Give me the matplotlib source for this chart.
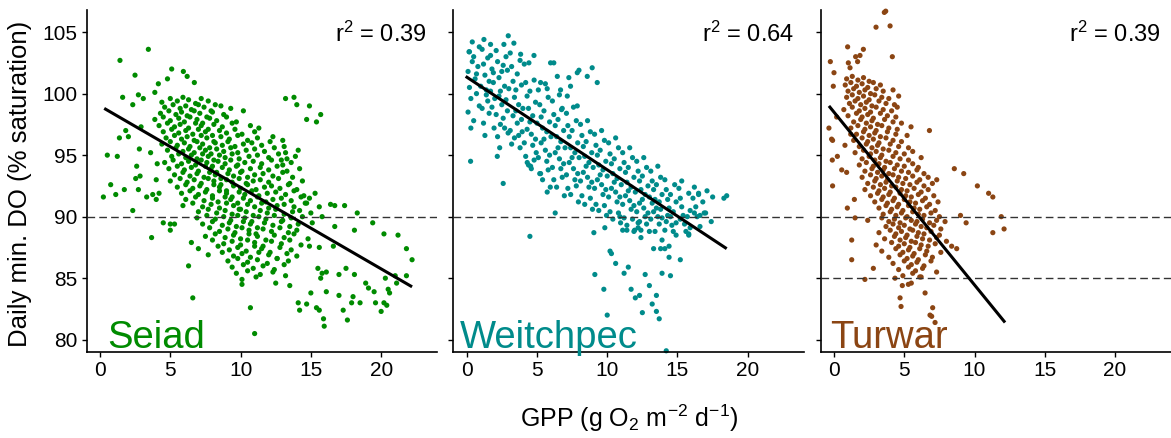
import matplotlib
matplotlib.use("Agg")
import matplotlib.pyplot as plt

plt.rcParams["font.family"] = ["Liberation Sans", "DejaVu Sans"]
plt.rcParams["mathtext.fontset"] = "custom"
plt.rcParams["mathtext.rm"] = "Liberation Sans"
plt.rcParams["mathtext.it"] = "Liberation Sans:italic"

sites = ["Seiad", "Weitchpec", "Turwar"]
site_colors = ["#008B00", "#008B8B", "#8B4513"]
r2_labels = ["0.39", "0.64", "0.39"]
fit_gpp = [[0.3, 22.2], [-0.07, 18.5], [-0.36, 12.17]]
fit_do = [[98.8, 84.3], [101.4, 87.4], [99.0, 81.4]]
ref_levels = [[90], [90], [90, 85]]
x_ticks = [0, 5, 10, 15, 20]
y_ticks = [80, 85, 90, 95, 100, 105]

# (GPP, min DO)
seiad_pts = [
    (3.44, 103.6), (1.42, 102.7), (2.49, 101.5), (5.1, 102.0), (4.8, 101.2), (5.93, 101.8), (6.2, 101.4),
    (6.71, 100.9), (4.15, 100.8), (1.61, 99.7), (2.73, 99.9), (3.08, 99.6), (3.9, 100.1), (2.33, 99.1),
    (13.2, 99.6), (13.8, 99.7), (14.9, 99.0), (14.0, 99.1), (14.7, 97.9), (15.7, 98.3), (15.4, 97.7),
    (0.52, 95.0), (0.24, 91.6), (0.76, 92.6), (1.12, 91.8), (1.23, 94.9), (1.73, 92.2), (1.38, 96.4),
    (1.83, 97.0), (2.02, 96.5), (2.33, 90.5), (2.54, 93.1), (2.61, 94.1), (2.73, 92.2), (2.85, 93.3),
    (2.8, 95.5), (2.92, 97.3), (3.32, 91.6), (3.6, 95.2), (3.67, 88.3), (3.75, 91.8), (4.0, 91.4),
    (4.2, 91.9), (4.0, 93.0), (4.07, 94.3), (4.5, 89.5), (5.0, 89.4), (5.3, 89.4),
    (6.6, 83.4), (10.7, 82.6), (11.0, 80.5), (10.1, 84.5), (6.3, 86.0),
    (14.1, 83.0), (14.2, 82.4), (14.7, 82.9), (15.0, 83.8), (15.4, 82.6), (15.6, 82.4), (15.9, 81.7),
    (15.95, 81.1), (15.5, 85.8), (15.7, 85.0), (15.8, 85.4), (16.1, 85.5), (16.1, 83.9), (17.0, 83.6),
    (17.3, 82.4), (17.6, 81.6), (17.9, 83.0), (18.0, 83.5), (17.5, 85.8), (17.0, 85.3), (18.1, 85.3),
    (18.5, 83.0), (18.9, 84.6), (19.1, 84.2), (19.5, 83.9), (19.6, 83.0), (20.0, 82.3), (20.2, 83.0),
    (20.4, 82.8), (20.3, 85.0), (20.5, 84.1), (20.6, 83.8), (21.0, 85.2), (21.1, 84.6), (21.8, 85.2),
    (21.8, 87.4), (22.2, 86.5), (21.2, 88.5), (20.2, 88.6), (19.4, 89.5), (18.3, 90.3), (17.4, 90.9),
    (16.7, 90.9), (16.4, 91.0), (15.6, 90.8), (15.8, 90.0), (16.7, 89.2), (18.1, 88.9), (16.6, 87.6),
    (15.6, 87.5), (14.9, 91.5), (14.7, 91.1),
    (4.4, 99.3), (5.0, 99.6), (5.5, 99.4), (5.9, 99.7), (6.3, 99.5), (6.8, 99.2), (7.2, 99.6), (7.7, 99.4),
    (8.2, 99.1), (4.6, 98.9), (5.2, 99.1), (5.7, 98.8), (6.1, 99.0), (6.5, 98.7), (7.0, 99.1), (7.4, 98.9),
    (7.9, 98.6), (8.6, 99.0), (9.3, 98.8), (4.3, 98.4), (4.9, 98.6), (5.4, 98.3), (5.8, 98.5), (6.2, 98.2),
    (6.7, 98.6), (7.1, 98.4), (7.6, 98.1), (8.0, 98.5), (8.8, 98.3), (10.2, 98.6), (3.9, 97.9), (4.5, 98.1),
    (5.0, 97.8), (5.6, 98.0), (6.0, 97.7), (6.4, 98.1), (6.9, 97.9), (7.3, 97.6), (7.8, 98.0), (8.3, 97.8),
    (9.0, 98.1), (9.7, 97.7), (4.2, 97.4), (4.8, 97.6), (5.3, 97.3), (5.7, 97.5), (6.3, 97.2), (6.8, 97.6),
    (7.2, 97.4), (7.7, 97.1), (8.1, 97.5), (8.7, 97.3), (9.4, 97.6), (10.7, 97.4), (11.3, 97.2),
    (4.5, 96.9), (5.1, 97.1), (5.6, 96.8), (6.1, 97.0), (6.6, 96.7), (7.0, 97.1), (7.5, 96.9), (8.0, 96.6),
    (8.5, 97.0), (9.0, 96.8), (9.6, 97.1), (10.1, 96.7), (11.0, 96.9), (4.7, 96.4), (5.3, 96.6), (5.8, 96.3),
    (6.2, 96.5), (6.7, 96.2), (7.2, 96.6), (7.6, 96.4), (8.1, 96.1), (8.6, 96.5), (9.2, 96.3), (9.8, 96.6),
    (10.5, 96.2), (11.2, 96.4), (12.3, 96.5), (13.0, 96.2), (4.4, 95.9), (5.0, 96.1), (5.5, 95.8),
    (6.0, 96.0), (6.4, 95.7), (6.9, 96.1), (7.3, 95.9), (7.8, 95.6), (8.2, 96.0), (8.7, 95.8), (9.1, 96.1),
    (9.6, 95.7), (10.2, 95.9), (10.8, 96.0), (11.5, 95.8), (12.1, 96.1), (13.1, 95.7), (4.8, 95.4),
    (5.4, 95.6), (5.9, 95.3), (6.3, 95.5), (6.7, 95.2), (7.1, 95.6), (7.5, 95.4), (7.9, 95.1), (8.3, 95.5),
    (8.8, 95.3), (9.3, 95.6), (9.8, 95.2), (10.4, 95.4), (11.0, 95.5), (11.7, 95.3), (12.4, 95.6),
    (13.2, 95.2), (14.1, 95.4), (5.1, 94.9), (5.6, 95.1), (6.1, 94.8), (6.5, 95.0), (6.9, 94.7), (7.3, 95.1),
    (7.7, 94.9), (8.1, 94.6), (8.5, 95.0), (8.9, 94.8), (9.4, 95.1), (9.9, 94.7), (10.6, 94.9), (11.2, 95.0),
    (12.0, 94.8), (12.7, 95.1), (13.3, 94.7), (13.9, 94.9), (12.9, 94.6), (4.6, 94.4), (5.2, 94.6),
    (5.8, 94.3), (6.3, 94.5), (6.8, 94.2), (7.2, 94.6), (7.6, 94.4), (8.0, 94.1), (8.4, 94.5), (8.9, 94.3),
    (9.3, 94.6), (9.8, 94.2), (10.3, 94.4), (10.9, 94.5), (11.5, 94.3), (12.2, 94.6), (13.0, 94.2),
    (13.6, 94.4), (4.9, 93.9), (5.5, 94.1), (6.0, 93.8), (6.5, 94.0), (7.0, 93.7), (7.5, 94.1), (7.9, 93.9),
    (8.3, 93.6), (8.7, 94.0), (9.2, 93.8), (9.7, 94.1), (10.1, 93.7), (10.7, 93.9), (11.4, 94.0),
    (12.0, 93.8), (12.6, 94.1), (13.3, 93.7), (14.2, 93.9), (5.3, 93.4), (5.9, 93.6), (6.4, 93.3),
    (6.9, 93.5), (7.4, 93.2), (7.8, 93.6), (8.2, 93.4), (8.6, 93.1), (9.1, 93.5), (9.5, 93.3), (10.0, 93.6),
    (10.5, 93.2), (11.0, 93.4), (11.6, 93.5), (12.3, 93.3), (13.0, 93.6), (13.7, 93.2), (5.0, 92.9),
    (5.7, 93.1), (6.2, 92.8), (6.7, 93.0), (7.2, 92.7), (7.7, 93.1), (8.1, 92.9), (8.6, 92.6), (9.0, 93.0),
    (9.4, 92.8), (9.9, 93.1), (10.4, 92.7), (10.9, 92.9), (11.4, 93.0), (12.0, 92.8), (12.7, 93.1),
    (13.5, 92.7), (14.4, 92.9), (5.5, 92.4), (6.1, 92.6), (6.6, 92.3), (7.1, 92.5), (7.6, 92.2), (8.1, 92.6),
    (8.5, 92.4), (9.0, 92.1), (9.5, 92.5), (10.0, 92.3), (10.5, 92.6), (11.1, 92.2), (11.7, 92.4),
    (12.2, 92.5), (12.8, 92.3), (13.4, 92.6), (14.0, 92.2), (5.8, 91.9), (6.4, 92.1), (7.0, 91.8),
    (7.5, 92.0), (8.0, 91.7), (8.5, 92.1), (9.0, 91.9), (9.4, 91.6), (9.9, 92.0), (10.3, 91.8), (10.8, 92.1),
    (11.3, 91.7), (11.9, 91.9), (12.5, 92.0), (13.2, 91.8), (13.8, 92.1), (14.5, 91.7), (15.3, 91.9),
    (6.1, 91.4), (6.8, 91.6), (7.4, 91.3), (8.0, 91.5), (8.4, 91.2), (8.9, 91.6), (9.3, 91.4), (9.8, 91.1),
    (10.2, 91.5), (10.7, 91.3), (11.2, 91.6), (11.8, 91.2), (12.3, 91.4), (12.9, 91.5), (13.6, 91.3),
    (14.3, 91.6), (5.9, 90.9), (6.6, 91.1), (7.3, 90.8), (7.9, 91.0), (8.5, 90.7), (9.0, 91.1), (9.5, 90.9),
    (10.0, 90.6), (10.5, 91.0), (11.0, 90.8), (11.5, 91.1), (12.0, 90.7), (12.6, 90.9), (13.1, 91.0),
    (13.8, 90.8), (14.6, 91.1), (7.0, 90.4), (7.7, 90.6), (8.3, 90.3), (8.9, 90.5), (9.4, 90.2), (9.9, 90.6),
    (10.4, 90.4), (10.9, 90.1), (11.4, 90.5), (11.9, 90.3), (12.5, 90.6), (13.1, 90.2), (13.7, 90.4),
    (14.2, 90.5), (15.0, 90.3), (6.9, 89.9), (7.6, 90.1), (8.2, 89.8), (8.8, 90.0), (9.3, 89.7), (9.8, 90.1),
    (10.3, 89.9), (10.8, 89.6), (11.3, 90.0), (11.8, 89.8), (12.4, 90.1), (13.0, 89.7), (13.6, 89.9),
    (14.4, 90.0), (7.3, 89.4), (8.0, 89.6), (8.7, 89.3), (9.2, 89.5), (9.7, 89.2), (10.2, 89.6), (10.7, 89.4),
    (11.2, 89.1), (11.7, 89.5), (12.3, 89.3), (12.9, 89.6), (13.5, 89.2), (14.1, 89.4), (15.1, 89.5),
    (5.0, 88.9), (7.8, 89.1), (8.5, 88.8), (9.1, 89.0), (9.6, 88.7), (10.1, 89.1), (10.6, 88.9), (11.1, 88.6),
    (11.6, 89.0), (12.2, 88.8), (12.8, 89.1), (13.4, 88.7), (14.0, 88.9), (7.5, 88.4), (8.2, 88.6),
    (8.9, 88.3), (9.5, 88.5), (10.0, 88.2), (10.6, 88.6), (11.2, 88.4), (11.8, 88.1), (12.4, 88.5),
    (13.1, 88.3), (13.8, 88.6), (14.8, 88.2), (6.5, 87.9), (8.0, 88.1), (8.8, 87.8), (9.4, 88.0),
    (10.0, 87.7), (10.5, 88.1), (11.0, 87.9), (11.6, 87.6), (12.2, 88.0), (12.9, 87.8), (13.5, 88.1),
    (14.3, 87.7), (7.0, 87.4), (8.4, 87.6), (9.2, 87.3), (9.8, 87.5), (10.4, 87.2), (11.0, 87.6),
    (11.5, 87.4), (12.1, 87.1), (12.8, 87.5), (13.6, 87.3), (14.9, 87.6), (7.7, 86.9), (8.7, 87.1),
    (9.5, 86.8), (10.1, 87.0), (10.7, 86.7), (11.3, 87.1), (12.0, 86.9), (12.6, 86.6), (13.3, 87.0),
    (14.0, 86.8), (9.1, 86.4), (9.8, 86.6), (10.5, 86.3), (11.2, 86.5), (11.9, 86.2), (12.6, 86.6),
    (13.4, 86.4), (9.4, 85.9), (10.2, 86.1), (10.9, 85.8), (11.6, 86.0), (12.4, 85.7), (13.1, 86.1),
    (9.7, 85.4), (10.5, 85.6), (11.4, 85.3), (12.3, 85.5), (13.2, 85.2), (10.1, 84.9), (11.1, 85.1),
    (12.5, 84.6), (13.5, 84.4),
]

weitchpec_pts = [
    (2.96, 104.7), (1.23, 104.4), (0.4, 104.2), (2.65, 104.0), (3.36, 104.1), (1.7, 104.0), (0.17, 103.4),
    (3.84, 103.2), (4.43, 102.5), (4.79, 103.1), (5.26, 100.9), (5.97, 102.5), (6.2, 102.5),
    (7.87, 101.7), (7.99, 101.9), (8.58, 101.4), (8.93, 102.1), (9.29, 100.9), (7.27, 101.3), (7.39, 100.6),
    (6.68, 100.3), (7.16, 99.8), (6.45, 101.4), (5.73, 100.4), (7.87, 99.0), (6.75, 98.7),
    (4.31, 94.4), (4.55, 94.1), (5.26, 93.5), (5.73, 92.0), (6.3, 90.3), (4.5, 88.4), (2.6, 92.7),
    (0.28, 94.5), (2.18, 94.9),
    (9.12, 85.3), (9.76, 84.1), (10.0, 82.0), (10.2, 87.2), (10.3, 87.0), (10.6, 86.2), (11.2, 85.4),
    (11.5, 85.9), (11.7, 84.1), (12.0, 83.4), (12.3, 83.6), (12.5, 82.2), (12.7, 85.3), (13.0, 84.4),
    (13.2, 82.9), (13.5, 83.6), (13.5, 82.3), (13.7, 81.7), (13.9, 85.4), (14.5, 85.2), (13.9, 88.1),
    (13.3, 87.4), (13.8, 87.4), (14.1, 87.4), (14.4, 87.6), (14.4, 86.7), (15.2, 86.5), (14.2, 79.1),
    (12.2, 89.1), (12.4, 88.3), (11.4, 88.9), (11.1, 88.9), (11.9, 88.8), (9.05, 88.7), (9.83, 89.1),
    (14.9, 88.5), (15.8, 88.5), (10.9, 90.0), (12.3, 89.6), (13.0, 88.8),
    (18.3, 91.5), (18.5, 91.7), (17.5, 91.6), (17.1, 92.1), (16.5, 91.8), (17.4, 89.6), (17.0, 90.3),
    (16.6, 90.1), (16.2, 90.3), (15.8, 88.6),
    (0.1, 101.8), (0.2, 100.5), (0.3, 99.6), (0.1, 98.5), (0.4, 102.6), (0.5, 103.0), (0.2, 103.4),
    (0.6, 101.2), (0.7, 100.0), (0.8, 102.2), (0.9, 99.0), (0.5, 97.8), (0.3, 97.2), (0.9, 103.8),
    (0.7, 101.6), (1.0, 100.6),
    (1.1, 103.6), (1.2, 102.4), (1.3, 101.5), (1.4, 100.3), (1.5, 99.4), (1.6, 98.4), (1.2, 97.6),
    (1.7, 103.1), (1.8, 102.0), (1.9, 100.9), (1.4, 99.9), (1.6, 101.0), (1.8, 98.9), (1.95, 97.2),
    (1.3, 96.6), (1.5, 102.9), (1.7, 100.2), (1.1, 98.8), (2.0, 99.6), (1.9, 101.7),
    (2.1, 103.5), (2.2, 102.6), (2.3, 101.3), (2.4, 100.2), (2.5, 99.1), (2.6, 98.0), (2.7, 97.2),
    (2.2, 96.5), (2.8, 103.0), (2.9, 101.9), (2.3, 99.8), (2.5, 101.8), (2.7, 100.6), (2.9, 98.6),
    (2.1, 98.3), (2.4, 97.5), (2.6, 102.3), (2.8, 99.5), (3.0, 100.4), (2.95, 96.8), (2.35, 95.6),
    (3.1, 103.3), (3.2, 102.2), (3.3, 101.0), (3.4, 99.7), (3.5, 98.6), (3.6, 97.6), (3.7, 96.6),
    (3.2, 95.9), (3.8, 102.7), (3.9, 100.7), (3.3, 98.2), (3.5, 100.3), (3.7, 99.1), (3.9, 97.9),
    (3.1, 97.0), (3.4, 96.4), (3.6, 101.6), (3.8, 95.6), (4.0, 98.8), (3.95, 96.9),
    (4.1, 102.4), (4.2, 100.9), (4.3, 99.8), (4.4, 98.8), (4.5, 97.7), (4.6, 96.7), (4.7, 95.8),
    (4.2, 94.9), (4.8, 101.1), (4.9, 99.3), (4.3, 97.1), (4.5, 100.2), (4.7, 98.2), (4.9, 96.3),
    (4.1, 96.0), (4.4, 94.2), (4.6, 93.9), (4.8, 94.6), (5.0, 97.6), (4.95, 95.2),
    (5.1, 100.3), (5.2, 99.1), (5.3, 98.1), (5.4, 97.2), (5.5, 96.3), (5.6, 95.4), (5.7, 94.5),
    (5.2, 93.5), (5.8, 99.7), (5.9, 97.7), (5.3, 96.0), (5.5, 98.6), (5.7, 96.9), (5.9, 95.0),
    (5.1, 94.8), (5.4, 93.0), (5.6, 100.8), (5.8, 93.8), (6.0, 96.5), (5.95, 92.4),
    (6.1, 99.4), (6.2, 98.3), (6.3, 97.4), (6.4, 96.5), (6.5, 95.6), (6.6, 94.7), (6.7, 93.9),
    (6.2, 93.0), (6.8, 98.8), (6.9, 97.0), (6.3, 95.2), (6.5, 97.9), (6.7, 96.1), (6.9, 94.3),
    (6.1, 94.0), (6.4, 92.4), (6.6, 99.9), (6.8, 93.2), (7.0, 95.6), (6.95, 91.7),
    (7.1, 98.4), (7.2, 97.4), (7.3, 96.5), (7.4, 95.6), (7.5, 94.8), (7.6, 93.9), (7.7, 93.0),
    (7.2, 92.3), (7.8, 97.8), (7.9, 96.0), (7.3, 94.4), (7.5, 97.0), (7.7, 95.2), (7.9, 93.5),
    (7.1, 93.4), (7.4, 91.8), (7.6, 98.9), (7.8, 92.5), (8.0, 94.8), (7.95, 91.2),
    (8.1, 97.5), (8.2, 96.6), (8.3, 95.7), (8.4, 94.9), (8.5, 94.1), (8.6, 93.2), (8.7, 92.4),
    (8.2, 91.7), (8.8, 96.9), (8.9, 95.2), (8.3, 93.6), (8.5, 96.1), (8.7, 94.4), (8.9, 92.8),
    (8.1, 92.9), (8.4, 91.0), (8.6, 97.8), (8.8, 91.5), (9.0, 94.0), (8.95, 90.6),
    (9.1, 96.7), (9.2, 95.8), (9.3, 95.0), (9.4, 94.2), (9.5, 93.4), (9.6, 92.6), (9.7, 91.8),
    (9.2, 91.0), (9.8, 96.2), (9.9, 94.5), (9.3, 93.0), (9.5, 95.4), (9.7, 93.8), (9.9, 92.2),
    (9.1, 92.3), (9.4, 90.5), (9.6, 97.0), (9.8, 90.9), (10.0, 93.3), (9.95, 90.1),
    (10.1, 96.0), (10.2, 95.1), (10.3, 94.3), (10.4, 93.5), (10.5, 92.8), (10.6, 92.0), (10.7, 91.2),
    (10.2, 90.4), (10.8, 95.6), (10.9, 93.9), (10.3, 92.3), (10.5, 94.7), (10.7, 93.1), (10.9, 91.6),
    (10.1, 91.6), (10.4, 89.8), (10.6, 96.4), (10.8, 90.3), (11.0, 92.6), (10.95, 89.5),
    (11.1, 95.2), (11.2, 94.4), (11.3, 93.6), (11.4, 92.8), (11.5, 92.1), (11.6, 91.3), (11.7, 90.6),
    (11.2, 89.9), (11.8, 94.8), (11.9, 93.2), (11.3, 91.7), (11.5, 94.0), (11.7, 92.4), (11.9, 90.9),
    (11.1, 91.0), (11.4, 89.3), (11.6, 95.6), (11.8, 89.8), (12.0, 92.0), (11.95, 88.9),
    (12.1, 94.5), (12.2, 93.7), (12.3, 92.9), (12.4, 92.2), (12.5, 91.4), (12.6, 90.7), (12.7, 90.0),
    (12.2, 89.5), (12.8, 94.0), (12.9, 92.5), (12.3, 91.1), (12.5, 93.3), (12.7, 91.8), (12.9, 90.3),
    (12.1, 90.4), (12.4, 88.9), (12.6, 94.8), (12.8, 89.4), (13.0, 91.6),
    (13.1, 93.7), (13.2, 92.9), (13.3, 92.2), (13.4, 91.4), (13.5, 90.7), (13.6, 90.0), (13.7, 89.4),
    (13.2, 91.1), (13.8, 93.2), (13.9, 91.8), (13.3, 90.4), (13.5, 92.6), (13.7, 91.2), (13.9, 89.9),
    (13.1, 89.8), (13.4, 88.8), (13.6, 94.1), (13.8, 90.6),
    (14.1, 93.0), (14.2, 92.2), (14.3, 91.4), (14.4, 90.7), (14.5, 90.0), (14.6, 89.3), (14.7, 88.8),
    (14.2, 89.6), (14.8, 92.6), (14.9, 91.2), (14.3, 90.1), (14.5, 91.8), (14.7, 90.4), (14.9, 89.5),
    (14.1, 88.9),
    (15.1, 92.3), (15.2, 91.5), (15.3, 90.8), (15.4, 90.1), (15.5, 89.4), (15.6, 88.8), (15.2, 89.8),
    (15.8, 91.9), (15.9, 90.5), (15.3, 92.9), (15.7, 90.0), (15.9, 89.1),
    (16.1, 91.5), (16.3, 90.8), (16.4, 90.0), (16.6, 89.2), (16.2, 92.4), (16.8, 91.2), (16.5, 91.9),
    (16.9, 90.3),
]

turwar_pts = [
    (3.58, 106.6), (3.68, 106.7), (2.99, 105.4), (3.99, 105.5), (4.15, 103.0), (0.97, 103.8), (2.09, 103.6),
    (1.85, 103.1), (1.68, 102.6), (1.54, 103.0), (-0.26, 102.6), (0.0, 101.7), (1.02, 102.5), (1.14, 102.1),
    (-0.05, 100.6),
    (2.2, 84.9), (2.8, 85.8), (1.26, 88.1), (1.26, 86.5), (4.7, 83.4), (4.77, 82.7), (5.29, 84.5),
    (5.5, 84.6), (4.86, 84.4), (6.48, 83.8), (6.83, 82.0), (7.02, 82.6), (7.19, 81.4), (6.95, 81.9),
    (4.34, 85.0), (6.1, 85.1),
    (8.56, 93.9), (9.23, 93.5), (10.2, 92.5), (11.0, 91.9), (11.3, 91.6), (11.9, 90.0), (12.1, 89.0),
    (11.3, 88.7), (9.0, 90.1), (9.4, 89.5), (8.73, 87.4), (8.37, 87.6), (6.79, 97.0), (5.48, 97.3),
    (7.31, 93.0),
    (-0.36, 97.2), (-0.17, 96.3), (-0.12, 94.6), (-0.1, 92.5), (0.24, 94.9), (0.55, 93.8), (0.9, 93.6),
    (0.95, 90.7), (1.5, 89.9), (1.45, 91.4), (0.78, 95.8), (1.19, 96.7), (0.19, 98.1), (-0.1, 96.2),
    (0.9, 101.2), (1.3, 101.4), (1.7, 101.1), (2.1, 101.3), (2.5, 101.0),
    (0.8, 100.7), (1.2, 100.9), (1.6, 100.6), (2.0, 100.8), (2.4, 100.5), (2.8, 100.9), (3.3, 100.7),
    (1.0, 100.2), (1.4, 100.4), (1.8, 100.1), (2.2, 100.3), (2.6, 100.0), (3.0, 100.4), (3.5, 100.2),
    (4.2, 100.3), (0.9, 99.7), (1.3, 99.9), (1.7, 99.6), (2.1, 99.8), (2.5, 99.5), (2.9, 99.9), (3.4, 99.7),
    (3.9, 99.6), (4.6, 99.8), (1.1, 99.2), (1.5, 99.4), (1.9, 99.1), (2.3, 99.3), (2.7, 99.0), (3.2, 99.4),
    (3.7, 99.2), (4.3, 99.1), (0.7, 98.7), (1.3, 98.9), (1.8, 98.6), (2.2, 98.8), (2.6, 98.5), (3.0, 98.9),
    (3.5, 98.7), (4.1, 98.6), (4.5, 98.9), (1.0, 98.2), (1.6, 98.4), (2.0, 98.1), (2.4, 98.3), (2.8, 98.0),
    (3.3, 98.4), (3.8, 98.2), (4.4, 98.1), (1.4, 97.7), (1.9, 97.9), (2.3, 97.6), (2.7, 97.8), (3.1, 97.5),
    (3.6, 97.9), (4.2, 97.7), (4.8, 97.6), (1.2, 97.2), (1.7, 97.4), (2.2, 97.1), (2.6, 97.3), (3.0, 97.0),
    (3.4, 97.4), (3.9, 97.2), (4.5, 97.1), (1.6, 96.7), (2.1, 96.9), (2.5, 96.6), (2.9, 96.8), (3.3, 96.5),
    (3.8, 96.9), (4.4, 96.7), (5.2, 96.6), (1.4, 96.2), (2.0, 96.4), (2.4, 96.1), (2.8, 96.3), (3.2, 96.0),
    (3.7, 96.4), (4.2, 96.2), (4.8, 96.1), (1.8, 95.7), (2.3, 95.9), (2.7, 95.6), (3.1, 95.8), (3.5, 95.5),
    (4.0, 95.9), (4.6, 95.7), (5.3, 95.6), (1.5, 95.2), (2.1, 95.4), (2.6, 95.1), (3.0, 95.3), (3.4, 95.0),
    (3.9, 95.4), (4.4, 95.2), (5.0, 95.1), (5.6, 95.3), (2.0, 94.7), (2.5, 94.9), (2.9, 94.6), (3.3, 94.8),
    (3.7, 94.5), (4.2, 94.9), (4.7, 94.7), (5.3, 94.6), (6.2, 94.8), (1.8, 94.2), (2.3, 94.4), (2.8, 94.1),
    (3.2, 94.3), (3.6, 94.0), (4.0, 94.4), (4.5, 94.2), (5.0, 94.1), (5.6, 94.3), (6.0, 94.0), (2.2, 93.7),
    (2.7, 93.9), (3.1, 93.6), (3.5, 93.8), (3.9, 93.5), (4.3, 93.9), (4.8, 93.7), (5.3, 93.6), (5.9, 93.8),
    (6.4, 93.5), (2.0, 93.2), (2.6, 93.4), (3.0, 93.1), (3.4, 93.3), (3.8, 93.0), (4.2, 93.4), (4.6, 93.2),
    (5.1, 93.1), (5.6, 93.3), (6.1, 93.0), (6.7, 93.2), (2.4, 92.7), (2.9, 92.9), (3.3, 92.6), (3.7, 92.8),
    (4.1, 92.5), (4.5, 92.9), (4.9, 92.7), (5.4, 92.6), (5.9, 92.8), (6.4, 92.5), (7.0, 92.7), (2.2, 92.2),
    (2.8, 92.4), (3.2, 92.1), (3.6, 92.3), (4.0, 92.0), (4.4, 92.4), (4.8, 92.2), (5.2, 92.1), (5.7, 92.3),
    (6.2, 92.0), (6.7, 92.2), (2.6, 91.7), (3.1, 91.9), (3.5, 91.6), (3.9, 91.8), (4.3, 91.5), (4.7, 91.9),
    (5.1, 91.7), (5.5, 91.6), (6.0, 91.8), (6.5, 91.5), (7.1, 91.7), (2.9, 91.2), (3.4, 91.4), (3.8, 91.1),
    (4.2, 91.3), (4.6, 91.0), (5.0, 91.4), (5.4, 91.2), (5.8, 91.1), (6.3, 91.3), (6.8, 91.0), (7.4, 91.2),
    (3.2, 90.7), (3.7, 90.9), (4.1, 90.6), (4.5, 90.8), (4.9, 90.5), (5.3, 90.9), (5.7, 90.7), (6.1, 90.6),
    (6.6, 90.8), (7.2, 90.5), (3.5, 90.2), (4.0, 90.4), (4.4, 90.1), (4.8, 90.3), (5.2, 90.0), (5.6, 90.4),
    (6.0, 90.2), (6.4, 90.1), (6.9, 90.3), (7.5, 90.0), (2.4, 89.7), (3.4, 89.9), (3.9, 89.6), (4.3, 89.8),
    (4.7, 89.5), (5.1, 89.9), (5.5, 89.7), (5.9, 89.6), (6.3, 89.8), (6.8, 89.5), (7.3, 89.7), (7.9, 89.6),
    (3.7, 89.2), (4.2, 89.4), (4.6, 89.1), (5.0, 89.3), (5.4, 89.0), (5.8, 89.4), (6.2, 89.2), (6.6, 89.1),
    (7.1, 89.3), (7.6, 89.0), (3.2, 88.7), (4.0, 88.9), (4.4, 88.6), (4.8, 88.8), (5.2, 88.5), (5.6, 88.9),
    (6.0, 88.7), (6.4, 88.6), (6.9, 88.8), (7.5, 88.5), (3.6, 88.2), (4.3, 88.4), (4.7, 88.1), (5.1, 88.3),
    (5.5, 88.0), (5.9, 88.4), (6.3, 88.2), (6.8, 88.1), (7.3, 88.3), (8.0, 88.0), (3.0, 87.7), (4.1, 87.9),
    (4.6, 87.6), (5.0, 87.8), (5.4, 87.5), (5.8, 87.9), (6.2, 87.7), (6.7, 87.6), (7.2, 87.8), (3.4, 87.2),
    (4.4, 87.4), (4.9, 87.1), (5.3, 87.3), (5.7, 87.0), (6.1, 87.4), (6.6, 87.2), (7.6, 87.1), (3.9, 86.7),
    (4.7, 86.9), (5.2, 86.6), (5.6, 86.8), (6.0, 86.5), (6.5, 86.9), (7.0, 86.7), (4.2, 86.2), (5.0, 86.4),
    (5.5, 86.1), (5.9, 86.3), (6.4, 86.0), (6.9, 86.4), (4.6, 85.7), (5.3, 85.9), (5.8, 85.6), (6.3, 85.8),
    (7.3, 85.5), (4.9, 85.2), (5.6, 85.4), (6.2, 85.1),
]

site_pts = [seiad_pts, weitchpec_pts, turwar_pts]

fig = plt.figure(figsize=(11.71, 4.38), dpi=100)
lefts = [0.074, 0.3871, 0.7008]
label_x = [0.058, 0.019, 0.027]

for i, name in enumerate(sites):
    ax = fig.add_axes([lefts[i], 0.1963, 0.2995, 0.781])
    gpp = [p[0] for p in site_pts[i]]
    do = [p[1] for p in site_pts[i]]
    ax.scatter(gpp, do, s=14, color=site_colors[i], edgecolors="none", zorder=2, clip_on=False)
    for lvl in ref_levels[i]:
        ax.axhline(lvl, color="#333333", lw=1.0, dashes=(5.5, 3.0), zorder=3)
    ax.plot(fit_gpp[i], fit_do[i], color="black", lw=2.2, zorder=4, solid_capstyle="butt")

    ax.set_xlim(-0.95, 24)
    ax.set_ylim(79.0, 106.8)
    ax.set_xticks(x_ticks)
    ax.set_yticks(y_ticks)
    if i > 0:
        ax.set_yticklabels([])
    for side in ["top", "right"]:
        ax.spines[side].set_visible(False)
    for side in ["left", "bottom"]:
        ax.spines[side].set_linewidth(1.2)
    ax.tick_params(direction="out", length=3.5, width=1.0, labelsize=15, pad=3)

    ax.text(0.971, 0.965, "r$^2$ = " + r2_labels[i], transform=ax.transAxes,
            ha="right", va="top", fontsize=17)
    ax.text(label_x[i], 0.012, name, transform=ax.transAxes, ha="left",
            va="baseline", fontsize=27.5, color=site_colors[i], zorder=5)

fig.text(0.017, 0.58, "Daily min. DO (% saturation)", rotation=90,
         ha="center", va="center", fontsize=18.5)
fig.text(0.537, 0.046, "GPP (g O$_2$ m$^{-2}$ d$^{-1}$)", ha="center",
         va="center", fontsize=18)

fig.savefig("out.png", dpi=100)
